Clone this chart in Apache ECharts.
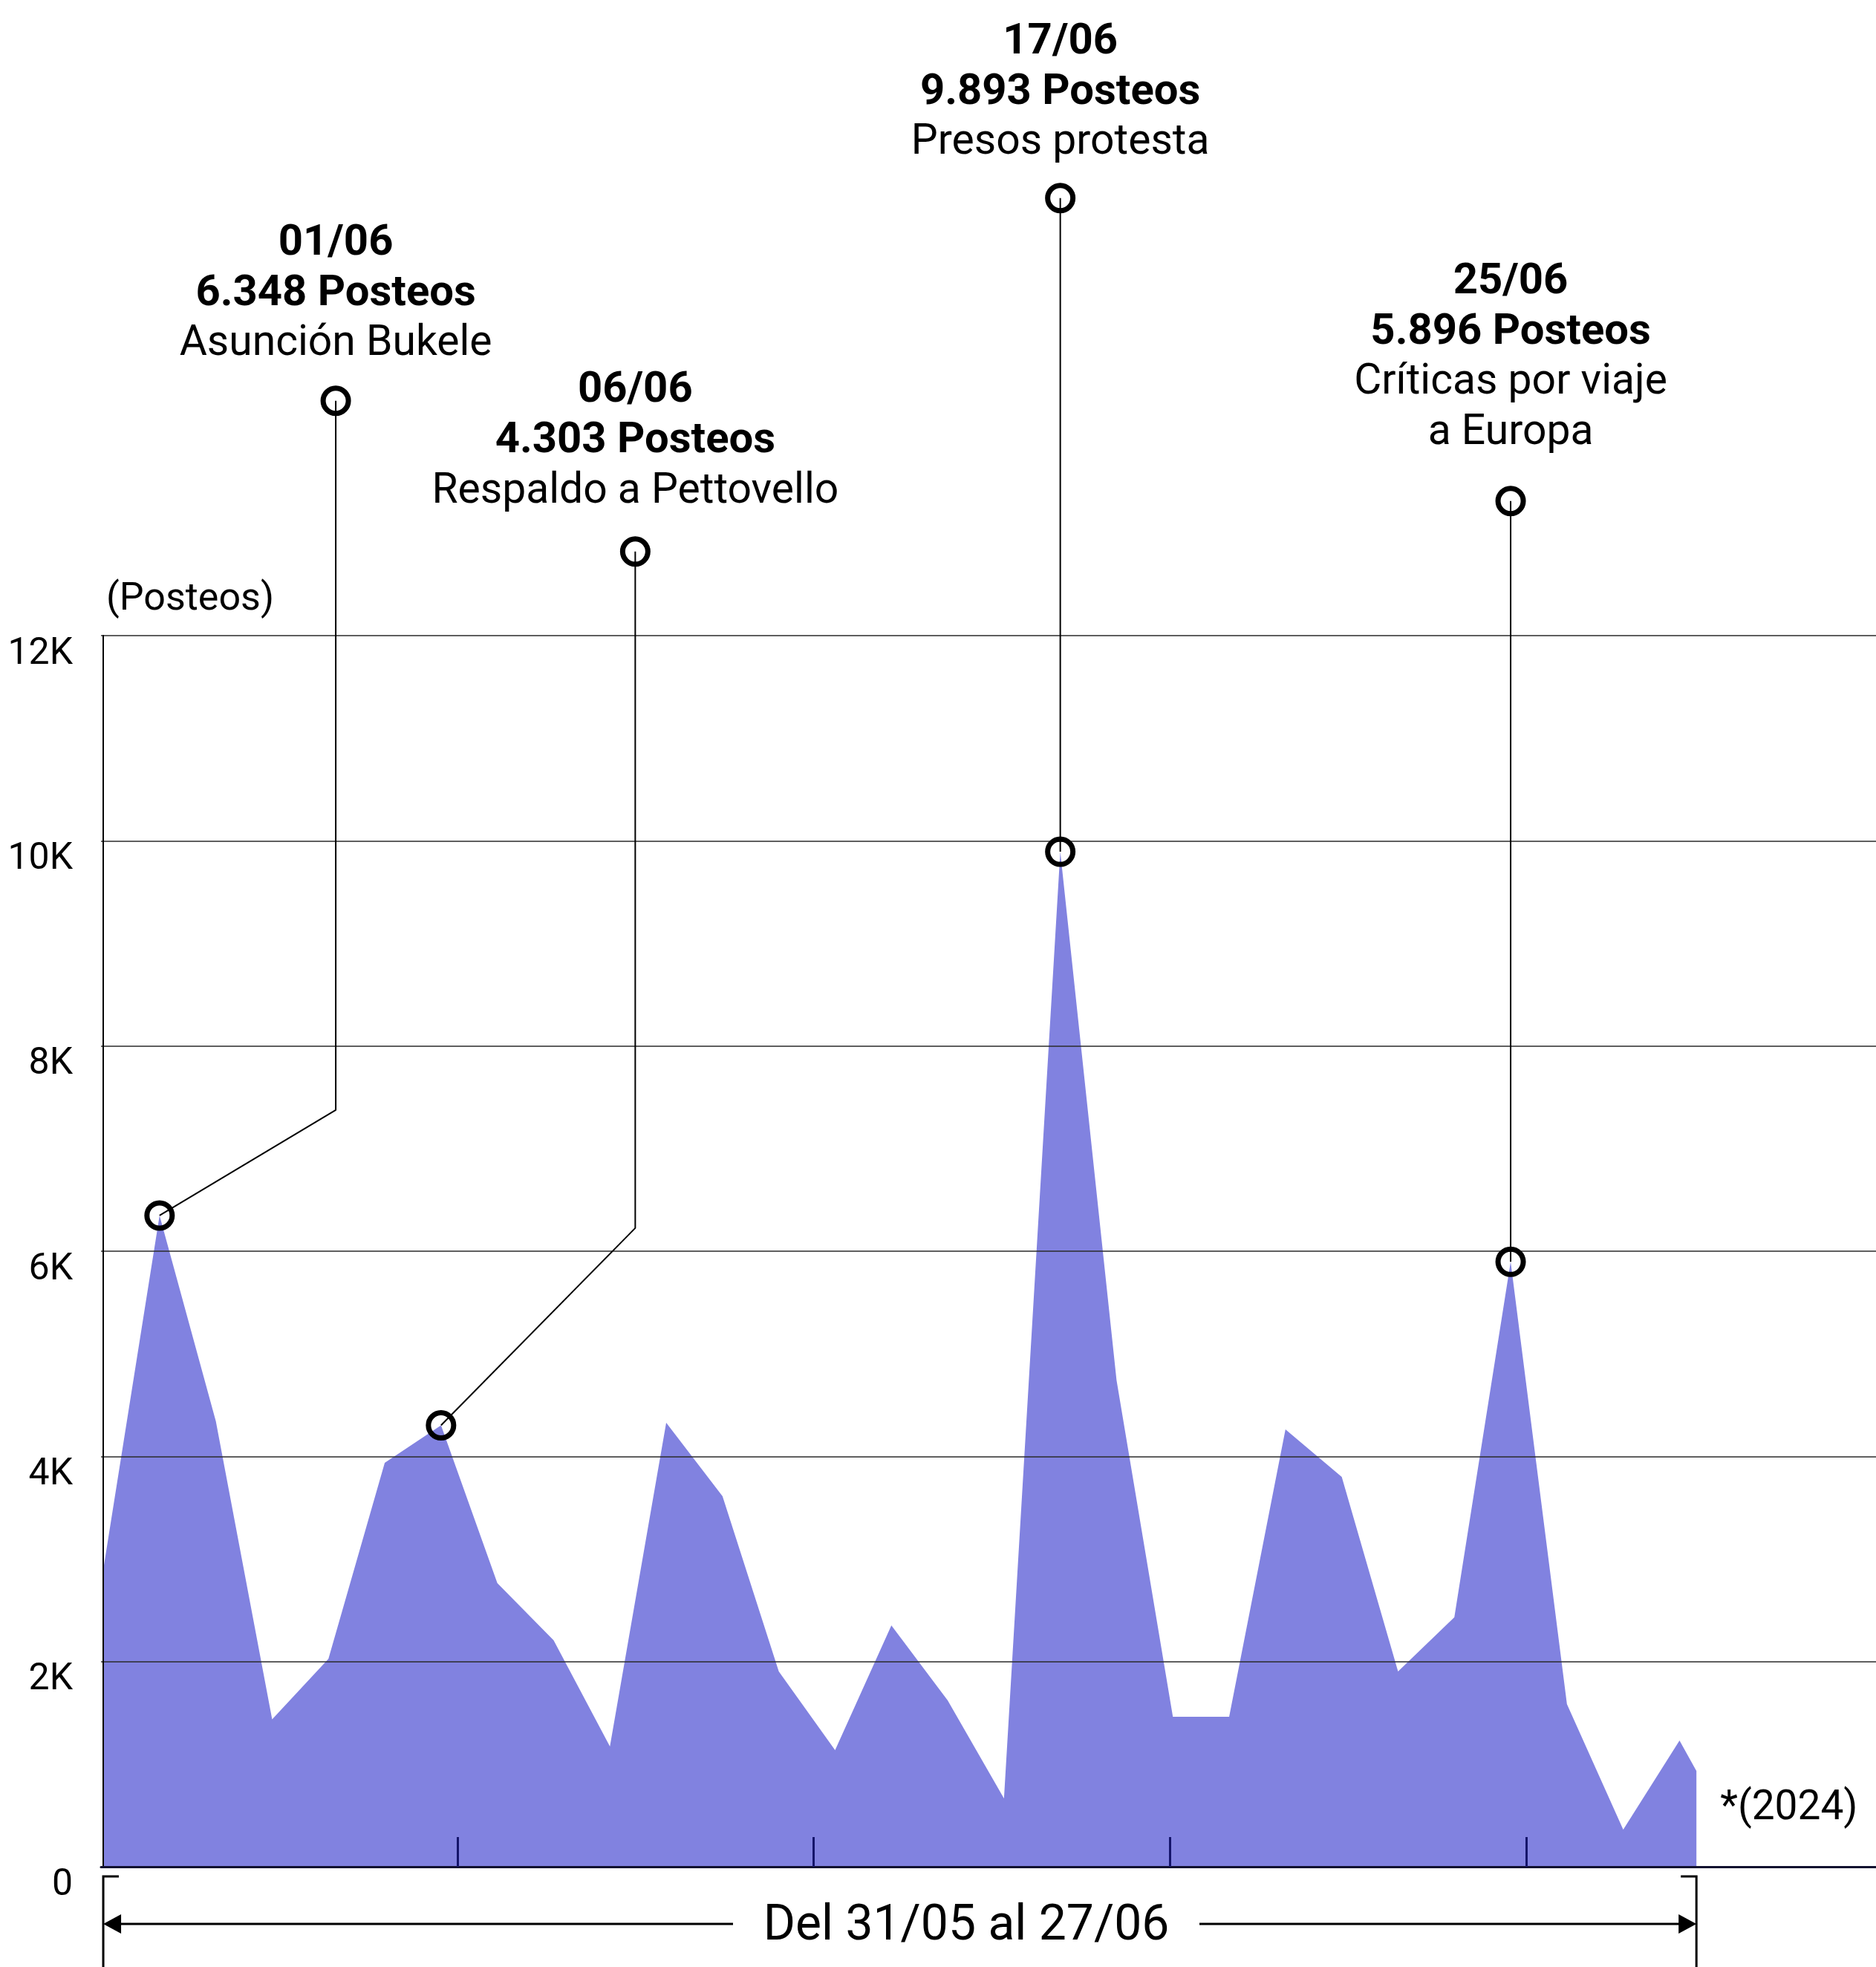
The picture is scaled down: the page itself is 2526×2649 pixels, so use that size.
<!DOCTYPE html>
<html>
<head>
<meta charset="utf-8">
<script src="https://cdn.jsdelivr.net/npm/echarts@6/dist/echarts.min.js"></script>
<style>
html,body{margin:0;padding:0;background:#fff;}
#chart{width:2526px;height:2649px;}
</style>
</head>
<body>
<div id="chart"></div>
<script>
// ---- data ----
const dates = ['31/05','01/06','02/06','03/06','04/06','05/06','06/06','07/06','08/06','09/06',
  '10/06','11/06','12/06','13/06','14/06','15/06','16/06','17/06','18/06','19/06','20/06',
  '21/06','22/06','23/06','24/06','25/06','26/06','27/06','28/06'];
const posts = [2895, 6348, 4343, 1436, 2027, 3938, 4303, 2765, 2208, 1172, 4329, 3612, 1904, 1136,
  2353, 1621, 666, 9893, 4741, 1462, 1462, 4263, 3800, 1904, 2432, 5896, 1585, 362, 1231];
// the area is cut at the right edge of the reference (day position, value at the cut)
const cutEnd = [28.30, 934];
const yTicks = [0, 2000, 4000, 6000, 8000, 10000, 12000];
const yTickLabels = ['0', '2K', '4K', '6K', '8K', '10K', '12K'];
const rangeLabel = 'Del 31/05 al 27/06';
const yearNote = '*(2024)';
const yName = '(Posteos)';

// annotation texts and leader-line layout (in axis units)
const annotations = [
  { date: '01/06', text: ['Asunción Bukele'], elbow: [4.13, 7376], top: [4.13, 14289], dist: 21 },
  { date: '06/06', text: ['Respaldo a Pettovello'], elbow: [9.45, 6225], top: [9.45, 12819], dist: 26 },
  { date: '17/06', text: ['Presos protesta'], elbow: null, top: [17, 16265], dist: 19 },
  { date: '25/06', text: ['Críticas por viaje', 'a Europa'], elbow: null, top: [25, 13312], dist: 36 }
];

// ---- styles ----
const FONT = 'Roboto';
const AREA = '#8182E0';
const xMin = -0.04, xMax = 31.49, xStep = 6.33;

const fmtNum = v => String(v).replace(/\B(?=(\d{3})+(?!\d))/g, '.');
const areaData = posts.map((v, i) => [i, v]).concat([cutEnd]);

const chart = echarts.init(document.getElementById('chart'), null, { renderer: 'canvas' });

const series = [{
  type: 'line',
  data: areaData,
  symbol: 'none',
  lineStyle: { width: 0 },
  areaStyle: { color: AREA, opacity: 1 },
  z: 2,
  silent: true,
  animation: false
}];

annotations.forEach(a => {
  const i = dates.indexOf(a.date);
  const p = [i, posts[i]];
  const path = a.elbow ? [p, a.elbow, a.top] : [p, [i, a.top[1]]];
  series.push({
    type: 'line',
    data: path,
    symbol: 'none',
    clip: false,
    lineStyle: { color: '#000', width: 2, opacity: 1 },
    z: 5, silent: true, animation: false
  });
  const lines = ['{b|' + a.date + '}', '{b|' + fmtNum(posts[i]) + ' Posteos}']
    .concat(a.text.map(t => '{r|' + t + '}'));
  series.push({
    type: 'scatter',
    clip: false,
    symbol: 'circle',
    symbolSize: 34,
    itemStyle: { color: 'rgba(0,0,0,0)', borderColor: '#000', borderWidth: 7, opacity: 1 },
    z: 6, silent: true, animation: false,
    data: [
      { value: p },
      {
        value: a.elbow ? a.top : [i, a.top[1]],
        label: {
          show: true,
          position: 'top',
          distance: a.dist,
          color: '#000',
          opacity: 1,
          formatter: lines.join('\n'),
          rich: {
            b: { fontFamily: FONT, fontSize: 58, fontWeight: 'bold', lineHeight: 68, color: '#000', align: 'center' },
            r: { fontFamily: FONT, fontSize: 57, fontWeight: 'normal', lineHeight: 68, color: '#000', align: 'center' }
          }
        }
      }
    ]
  });
});

const option = {
  backgroundColor: '#fff',
  animation: false,
  grid: { left: 136, right: 0, top: 856, bottom: 135, containLabel: false },
  xAxis: {
    type: 'value',
    min: xMin, max: xMax, interval: xStep,
    z: 3,
    axisLine: { show: true, onZero: false, lineStyle: { color: '#101030', width: 3 } },
    axisTick: {
      show: true, inside: true, length: 40,
      customValues: [1, 2, 3, 4].map(k => xMin + k * xStep),
      lineStyle: { color: '#15156b', width: 3 }
    },
    axisLabel: { show: false },
    splitLine: { show: false }
  },
  yAxis: {
    type: 'value',
    min: 0, max: 12000, interval: 2000,
    z: 3,
    name: yName,
    nameLocation: 'end',
    nameGap: 22,
    nameTextStyle: { fontFamily: FONT, fontSize: 52, color: '#000', align: 'left', verticalAlign: 'bottom', padding: [0, 0, 0, 4] },
    axisLine: { show: true, lineStyle: { color: '#000', width: 2 } },
    axisTick: { show: false },
    axisLabel: {
      fontFamily: FONT, fontSize: 50, color: '#000', margin: 38, verticalAlign: 'top',
      formatter: v => yTickLabels[yTicks.indexOf(v)]
    },
    splitLine: { show: true, lineStyle: { color: '#2a2a2a', width: 1.5 } }
  },
  series: series
};
chart.setOption(option);

// bottom range bracket, positioned from the x axis
const x0 = chart.convertToPixel({ xAxisIndex: 0 }, 0);
const x1 = chart.convertToPixel({ xAxisIndex: 0 }, cutEnd[0]);
const yBase = chart.convertToPixel({ yAxisIndex: 0 }, 0);
const yTop = yBase + 13, yArr = yBase + 77, yEnd = 2649;
const textCx = 1301, halfText = 272, gap = 42;
const stroke = { stroke: '#000', lineWidth: 3 };
chart.setOption({
  graphic: [
    { type: 'polyline', shape: { points: [[x0 + 21, yTop], [x0, yTop], [x0, yEnd]] }, style: Object.assign({ fill: null }, stroke) },
    { type: 'polyline', shape: { points: [[x1 - 21, yTop], [x1, yTop], [x1, yEnd]] }, style: Object.assign({ fill: null }, stroke) },
    { type: 'line', shape: { x1: x0 + 10, y1: yArr, x2: textCx - halfText - gap, y2: yArr }, style: stroke },
    { type: 'line', shape: { x1: textCx + halfText + gap, y1: yArr, x2: x1 - 10, y2: yArr }, style: stroke },
    { type: 'polygon', shape: { points: [[x0, yArr], [x0 + 24, yArr - 13], [x0 + 24, yArr + 13]] }, style: { fill: '#000' } },
    { type: 'polygon', shape: { points: [[x1, yArr], [x1 - 24, yArr - 13], [x1 - 24, yArr + 13]] }, style: { fill: '#000' } },
    { type: 'text', x: textCx, y: yArr + 4, style: { text: rangeLabel, fontFamily: FONT, fontSize: 66, fill: '#000', textAlign: 'center', textVerticalAlign: 'middle' } },
    { type: 'text', x: x1 + 32, y: yBase - 78, style: { text: yearNote, fontFamily: FONT, fontSize: 55, fill: '#000', textAlign: 'left', textVerticalAlign: 'middle' } }
  ]
});
</script>
</body>
</html>
